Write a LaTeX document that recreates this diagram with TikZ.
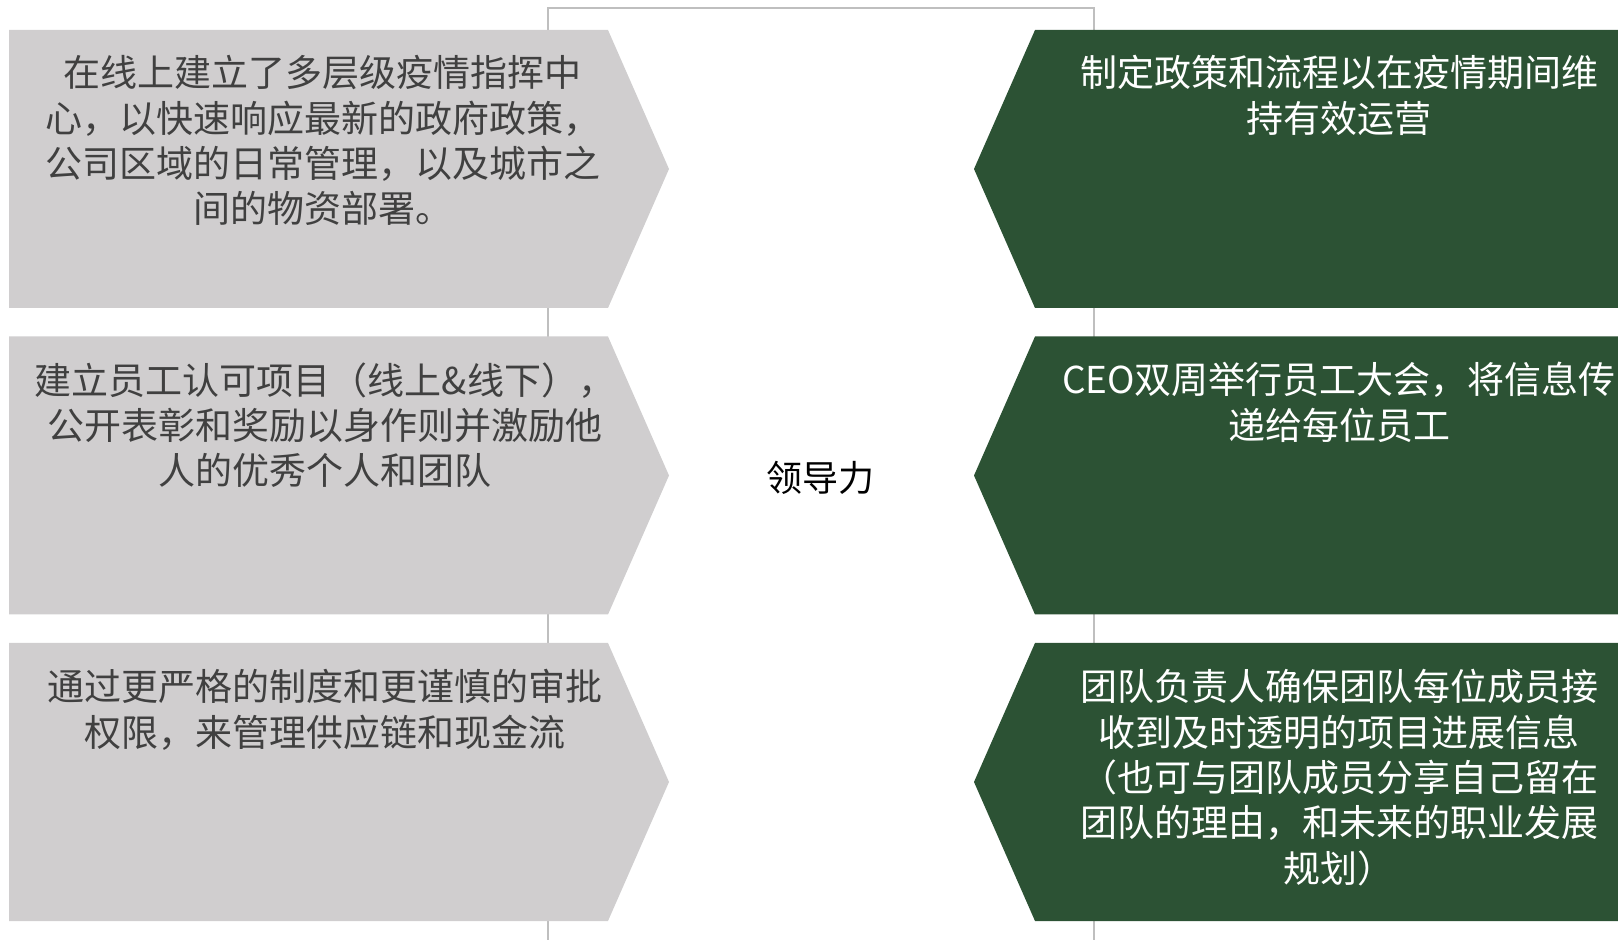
\documentclass[tikz,border=0pt]{standalone}
\usepackage{fontspec}
\usepackage{tikz}
\newfontfamily\cjk{Noto Sans CJK SC}
\definecolor{boxgray}{RGB}{208,206,207}
\definecolor{darkgreen}{RGB}{44,82,52}
\definecolor{textgray}{RGB}{64,64,64}
\definecolor{linegray}{RGB}{191,191,191}

\begin{document}
\begin{tikzpicture}[
  x=0.5pt, y=-0.5pt,
  frame/.style={draw=linegray, line width=0.6pt},
  leftbox/.style={fill=boxgray},
  rightbox/.style={fill=darkgreen},
  txt/.style={font={\cjk\fontsize{18.5pt}{22.7pt}\selectfont},
    align=center, inner sep=0pt, anchor=north},
  lefttxt/.style={txt, text=textgray},
  righttxt/.style={txt, text=white},
  ]
  \useasboundingbox (0,0) rectangle (1618,940);
  % Frame behind the boxes
  \draw[frame] (548,940) -- (548,8) -- (1094,8) -- (1094,940);
  % Boxes, pointing to the middle
  \foreach \dy in {0,306.5,613}{
    \fill[leftbox] (9,30+\dy) -- (608,30+\dy) -- (669,169+\dy)
      -- (608,308+\dy) -- (9,308+\dy) -- cycle;
    \fill[rightbox] (1035,30+\dy) -- (1618,30+\dy) -- (1618,308+\dy)
      -- (1035,308+\dy) -- (974,169+\dy) -- cycle;
  }
  % Middle
  \node[txt, anchor=center, font={\cjk\fontsize{18pt}{22pt}\selectfont}]
    (lead) at (820,478) {领导力};
  % Left column
  \node[lefttxt] (l1) at (323,55) {在线上建立了多层级疫情指挥中\\
    心，以快速响应最新的政府政策，\\公司区域的日常管理，以及城市之\\
    间的物资部署。};
  \node[lefttxt] (l2) at (325,362) {建立员工认可项目（线上\&线下），\\
    公开表彰和奖励以身作则并激励他\\人的优秀个人和团队};
  \node[lefttxt] (l3) at (325,669) {通过更严格的制度和更谨慎的审批\\
    权限，来管理供应链和现金流};
  % Right column
  \node[righttxt] (r1) at (1339,55) {制定政策和流程以在疫情期间维\\
    持有效运营};
  \node[righttxt] (r2) at (1339,362) {CEO双周举行员工大会，将信息传\\
    递给每位员工};
  \node[righttxt] (r3) at (1339,669) {团队负责人确保团队每位成员接\\
    收到及时透明的项目进展信息\\（也可与团队成员分享自己留在\\
    团队的理由，和未来的职业发展\\规划）};
\end{tikzpicture}
\end{document}
